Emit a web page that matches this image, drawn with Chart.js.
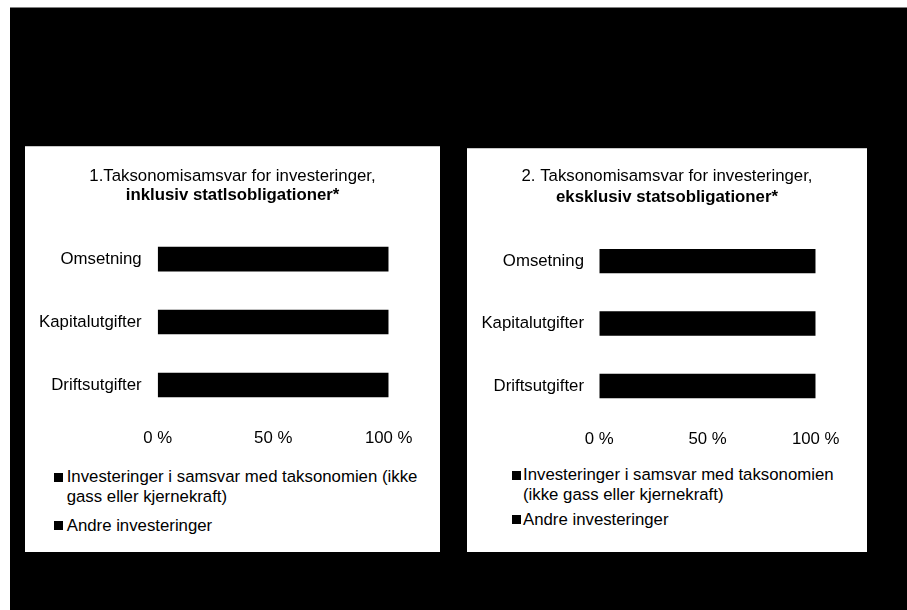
<!DOCTYPE html>
<html>
<head>
<meta charset="utf-8">
<script src="https://cdn.jsdelivr.net/npm/chart.js@4.4.0/dist/chart.umd.min.js"></script>
<style>
  body { margin: 0; background: #fff; width: 907px; height: 610px; overflow: hidden; position: relative; font-family: "Liberation Sans", Arial, sans-serif; }
  #bakgrunn { position: absolute; left: 10px; top: 7px; width: 897px; height: 603px; background: #000; border-top: 1px solid #7f7f7f; box-sizing: border-box; }
  .panel { position: absolute; background: #fff; border-top: 1px solid #c8c8c8; box-sizing: border-box; }
  .panel canvas { position: absolute; left: 0; top: 0; }
  .forklaring { position: absolute; font-size: 16.8px; line-height: 20px; color: #000; }
  .rute { position: absolute; width: 9px; height: 9px; background: #000; }
</style>
</head>
<body>
<div id="bakgrunn"></div>
<div class="panel" id="panel1" style="left:25px; top:146px; width:415px; height:406px;">
  <canvas id="chart1" width="415" height="310"></canvas>
</div>
<div class="panel" id="panel2" style="left:467px; top:148px; width:400px; height:404px;">
  <canvas id="chart2" width="400" height="310"></canvas>
</div>
<script>
// Kategorier og serier
const kategorier = ["Omsetning", "Kapitalutgifter", "Driftsutgifter"];
const serieNavn = [
  "Investeringer i samsvar med taksonomien (ikke gass eller kjernekraft)",
  "Andre investeringer"
];
const tickVerdier = [0, 50, 100];

// 1. inklusiv statsobligasjoner
const inklSamsvar = [0, 0, 0];
const inklAndre = [100, 100, 100];

// 2. eksklusiv statsobligasjoner
const ekslSamsvar = [0, 0, 0];
const ekslAndre = [100, 100, 100];

const fontFamilie = '"Liberation Sans", Arial, sans-serif';
const fontStr = 16.8;

function lagGrafikk(canvasId, samsvar, andre, tittel, oppsett) {
  const ctx = document.getElementById(canvasId).getContext("2d");
  return new Chart(ctx, {
    type: "bar",
    data: {
      labels: kategorier,
      datasets: [
        { label: serieNavn[0], data: samsvar, backgroundColor: "#000", barPercentage: 0.39, categoryPercentage: 1 },
        { label: serieNavn[1], data: andre, backgroundColor: "#000", barPercentage: 0.39, categoryPercentage: 1 }
      ]
    },
    options: {
      indexAxis: "y",
      responsive: false,
      animation: false,
      layout: { padding: 0 },
      plugins: {
        legend: { display: false },
        tooltip: { enabled: false },
        title: {
          display: true,
          text: tittel[0],
          color: "#000",
          font: { family: fontFamilie, size: fontStr, weight: "normal" },
          padding: { top: oppsett.t, bottom: 0 }
        },
        subtitle: {
          display: true,
          text: tittel[1],
          color: "#000",
          font: { family: fontFamilie, size: fontStr, weight: "bold" },
          padding: { top: oppsett.s, bottom: oppsett.b }
        }
      },
      scales: {
        x: {
          stacked: true,
          min: tickVerdier[0],
          max: tickVerdier[tickVerdier.length - 1],
          afterBuildTicks: scale => { scale.ticks = tickVerdier.map(v => ({ value: v })); },
          grid: { display: false, drawTicks: false },
          border: { display: false },
          ticks: {
            padding: oppsett.xPad,
            color: "#000",
            font: { family: fontFamilie, size: fontStr },
            callback: v => v + " %"
          },
          afterFit: scale => { scale.height = oppsett.xHoyde; }
        },
        y: {
          stacked: true,
          grid: { display: false, drawTicks: false },
          border: { display: false },
          ticks: {
            padding: oppsett.yPad,
            color: "#000",
            font: { family: fontFamilie, size: fontStr }
          },
          afterFit: scale => { scale.width = oppsett.yBredde; }
        },
        // tom akse til hoyre, bare for luft slik at tittelen blir midtstilt i panelet
        yHoyre: {
          type: "category",
          position: "right",
          grid: { display: false, drawTicks: false },
          border: { display: false },
          ticks: { display: false },
          afterFit: scale => { scale.width = oppsett.hoyreBredde; }
        }
      }
    }
  });
}

// Egen forklaring (legend) under grafen
function lagForklaring(panelId, chart, pos) {
  const panel = document.getElementById(panelId);
  chart.data.datasets.forEach((ds, i) => {
    const rute = document.createElement("div");
    rute.className = "rute";
    rute.style.background = ds.backgroundColor;
    rute.style.left = pos.ruteX + "px";
    rute.style.top = pos.ruteY[i] + "px";
    panel.appendChild(rute);

    const tekst = document.createElement("div");
    tekst.className = "forklaring";
    tekst.textContent = ds.label;
    tekst.style.left = pos.tekstX + "px";
    tekst.style.top = pos.tekstY[i] + "px";
    tekst.style.width = pos.bredde + "px";
    panel.appendChild(tekst);
  });
}

const graf1 = lagGrafikk("chart1", inklSamsvar, inklAndre,
  ["1.Taksonomisamsvar for investeringer,", "inklusiv statlsobligationer*"],
  { t: 19, s: -1, b: 22.3, xPad: 12, xHoyde: 40.5, yPad: 16, yBredde: 132.7, hoyreBredde: 51.3 });

const graf2 = lagGrafikk("chart2", ekslSamsvar, ekslAndre,
  ["2. Taksonomisamsvar for investeringer,", "eksklusiv statsobligationer*"],
  { t: 17.4, s: 0.4, b: 22.7, xPad: 11.7, xHoyde: 41.75, yPad: 15.3, yBredde: 132.3, hoyreBredde: 51.3 });

lagForklaring("panel1", graf1, { ruteX: 29.3, ruteY: [326, 374], tekstX: 41.7, tekstY: [319.7, 369.2], bredde: 365 });
lagForklaring("panel2", graf2, { ruteX: 44.7, ruteY: [322, 366], tekstX: 56, tekstY: [315.5, 361.2], bredde: 325 });
</script>
</body>
</html>
